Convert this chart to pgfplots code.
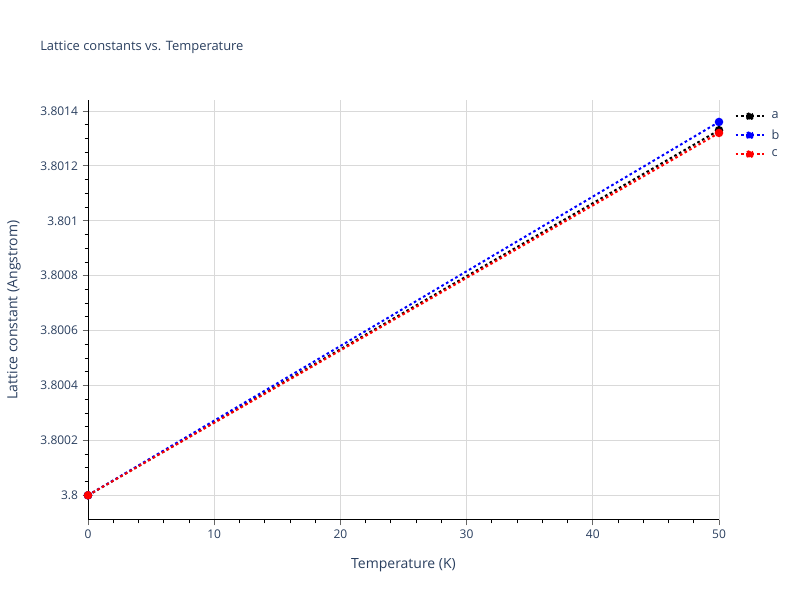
\documentclass[border=0pt]{standalone}
\usepackage{pgfplots}
\pgfplotsset{compat=1.18}
\usepackage{fontspec}
\setmainfont{Open Sans}
\definecolor{plotlytext}{HTML}{2A3F5F}
\definecolor{gridgray}{HTML}{D9D9D9}
\begin{document}
\begin{tikzpicture}
\useasboundingbox (0pt,0pt) rectangle (600pt,450pt);
\node[anchor=base west, font=\fontsize{9.7}{11}\selectfont, text=plotlytext, inner sep=0]
  at (30pt,412pt) {Lattice constants vs. Temperature};
\begin{axis}[
  at={(66pt,60pt)}, anchor=south west,
  scale only axis, width=473.25pt, height=315pt,
  xmin=0, xmax=50, ymin=3.79991, ymax=3.80144,
  axis lines*=left,
  axis line style={black, line width=0.75pt},
  xtick={0,10,20,30,40,50},
  minor xtick={2,4,6,8,12,14,16,18,22,24,26,28,32,34,36,38,42,44,46,48},
  ytick={3.8,3.8002,3.8004,3.8006,3.8008,3.801,3.8012,3.8014},
  yticklabels={3.8,3.8002,3.8004,3.8006,3.8008,3.801,3.8012,3.8014},
  minor y tick num=3,
  scaled y ticks=false,
  tick align=outside,
  major tick length=4pt, minor tick length=2.5pt,
  every tick/.style={gray!80!black, line width=0.7pt},
  minor tick style={black, line width=0.6pt},
  grid=major,
  major grid style={gridgray, line width=0.6pt},
  ticklabel style={font=\fontsize{9}{10}\selectfont, text=plotlytext},
  /pgf/number format/assume math mode=true,
  xlabel={Temperature (K)},
  ylabel={Lattice constant (Angstrom)},
  label style={font=\fontsize{10.5}{12}\selectfont, text=plotlytext},
  xlabel style={yshift=-8pt},
  ylabel style={yshift=8pt},
  clip=false,
  legend style={at={(1.02,0.985)}, anchor=north west, draw=none, fill=none,
    font=\fontsize{9.5}{11}\selectfont, text=plotlytext, row sep=2.5pt,
    inner sep=2pt, legend cell align=left,
    /tikz/every odd column/.append style={column sep=3pt}},
  legend image code/.code={
    \draw[#1, dash pattern=on 2pt off 2pt, line width=1.5pt, mark=none] (0pt,0pt) -- (0.75cm,0pt);
    \fill[#1] (0.375cm,0pt) circle (2.4pt);
  },
]
\addplot[black, dash pattern=on 2pt off 2pt, line width=1.5pt, mark=*, mark size=2.4pt, mark options={solid}]
  coordinates {(0,3.8) (50,3.80133)};
\addlegendentry{a}
\addplot[blue, dash pattern=on 2pt off 2pt, line width=1.5pt, mark=*, mark size=2.4pt, mark options={solid}]
  coordinates {(0,3.8) (50,3.80136)};
\addlegendentry{b}
\addplot[red, dash pattern=on 2pt off 2pt, line width=1.5pt, mark=*, mark size=2.4pt, mark options={solid}]
  coordinates {(0,3.8) (50,3.80132)};
\addlegendentry{c}
\end{axis}
\end{tikzpicture}
\end{document}
